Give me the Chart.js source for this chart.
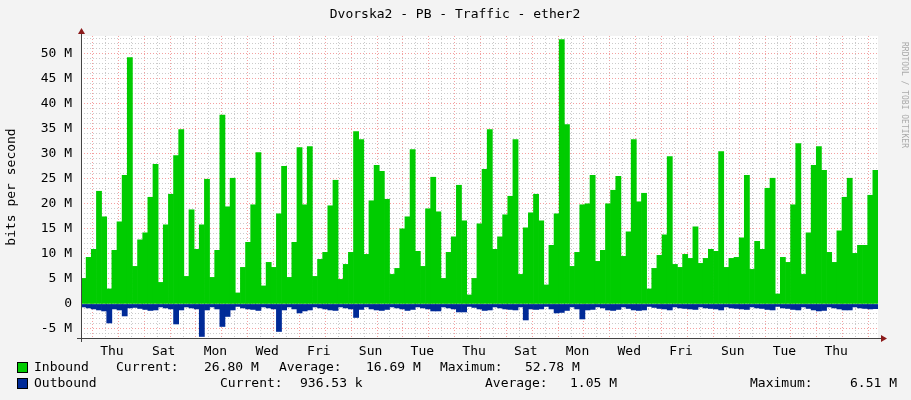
<!DOCTYPE html>
<html><head><meta charset="utf-8">
<script src="https://cdn.jsdelivr.net/npm/chart.js@4"></script>
<style>html,body{margin:0;padding:0;background:#f3f3f3}#w{width:911px;height:400px;position:relative}canvas{display:block}</style>
</head><body><div id="w"><canvas id="c" width="911" height="400"></canvas></div>
<script>
const title = "Dvorska2 - PB - Traffic - ether2";
const dayNames = ["Thu","Fri","Sat","Sun","Mon","Tue","Wed"];
const inbound = [5.1,9.3,10.9,22.5,17.4,3,10.7,16.4,25.7,49.2,7.5,12.8,14.2,21.3,27.9,4.3,15.8,21.9,29.6,34.8,5.5,18.8,10.9,15.8,24.9,5.3,10.7,37.7,19.4,25.1,2.2,7.3,12.3,19.8,30.2,3.6,8.3,7.3,18,27.5,5.3,12.3,31.2,19.8,31.4,5.5,8.9,10.3,19.6,24.7,4.9,7.9,10.3,
34.4,32.8,9.9,20.6,27.7,26.5,20.9,5.9,7.1,15,17.4,30.8,10.5,7.5,19,25.3,18.4,5.1,10.3,13.4,23.7,16.6,1.8,5.1,16,26.9,34.8,10.9,13.4,17.8,21.5,32.8,5.9,15.2,18.2,21.9,16.6,3.8,11.7,18,52.8,35.8,7.5,10.3,19.8,20,25.7,8.5,10.7,20,22.7,
25.5,9.5,14.4,32.8,20.4,22.1,3,7.1,9.7,13.8,29.4,7.9,7.3,9.9,9.1,15.4,8.1,9.1,10.9,10.5,30.4,7.3,9.1,9.3,13.2,25.7,6.9,12.5,10.9,23.1,25.1,2,9.3,8.3,19.8,32,5.9,14.2,27.7,31.4,26.7,10.3,8.3,14.6,21.3,25.1,10.1,11.7,11.7,21.7,26.7];
const outbound = [-0.6,-0.8,-1.0,-1.2,-1.4,-3.8,-1.0,-1.2,-2.4,-0.8,-0.7,-0.9,-1.1,-1.3,-1.2,-0.6,-0.8,-1.0,-4.0,-1.2,-0.6,-0.8,-1.0,-6.5,-1.2,-0.6,-1.0,-4.5,-2.5,-1.2,-0.5,-0.8,-1.0,-1.1,-1.3,-0.6,-0.8,-1.0,-5.5,-1.2,-0.6,-1.0,-1.8,-1.4,-1.2,-0.6,-0.8,-1.0,-1.2,-1.3,-0.6,-0.8,-1.0,
-2.7,-1.1,-0.6,-1.0,-1.2,-1.3,-1.1,-0.6,-0.8,-1.0,-1.3,-1.1,-0.6,-0.8,-1.0,-1.4,-1.4,-0.6,-0.8,-1.0,-1.6,-1.6,-0.5,-0.7,-1.0,-1.3,-1.2,-0.6,-0.8,-1.0,-1.1,-1.2,-0.6,-3.2,-1.0,-1.1,-1.0,-0.5,-1.0,-1.8,-1.7,-1.3,-0.6,-1.0,-3.0,-1.2,-1.1,-0.6,-0.8,-1.2,-1.3,
-1.1,-0.6,-0.9,-1.2,-1.3,-1.2,-0.5,-0.7,-0.9,-1.0,-1.2,-0.6,-0.8,-0.9,-1.0,-1.1,-0.6,-0.8,-0.9,-1.0,-1.2,-0.6,-0.8,-0.9,-1.0,-1.1,-0.6,-0.8,-0.9,-1.1,-1.2,-0.5,-0.8,-0.9,-1.1,-1.2,-0.6,-0.9,-1.2,-1.4,-1.3,-0.6,-0.8,-1.0,-1.2,-1.2,-0.6,-0.8,-0.9,-1.0,-0.94];
const legendRows = [
  {label:"Inbound", color:"#00cc00", items:[["Current:",116],["26.80 M",204],["Average:",279],["16.69 M",366],["Maximum:",440],["52.78 M",525]]},
  {label:"Outbound", color:"#002a97", items:[["Current:",220],["936.53 k",300],["Average:",485],["1.05 M",570],["Maximum:",750],["6.51 M",850]]}
];
const X_MIN = -16.7, X_MAX = 722.8;
const step = (X_MAX - X_MIN) / inbound.length;
const xs = inbound.map((_, i) => X_MIN + (i + 0.5) * step);
const FONT = "DejaVu Sans Mono";

const deco = {
  id:'deco',
  beforeDraw(ch){
    const {ctx, chartArea:a} = ch;
    ctx.save(); ctx.fillStyle='#fff'; ctx.fillRect(a.left,a.top,a.right-a.left,a.bottom-a.top); ctx.restore();
  },
  afterDraw(ch){
    const {ctx, chartArea:a} = ch;
    ctx.save();
    ctx.fillStyle='#000'; ctx.font='13px '+FONT; ctx.textAlign='center'; ctx.textBaseline='middle';
    ctx.fillText(title, 455, 15);
    ctx.strokeStyle='#444'; ctx.lineWidth=1;
    ctx.beginPath(); ctx.moveTo(a.left+0.5, a.bottom+4); ctx.lineTo(a.left+0.5, a.top-4); ctx.stroke();
    ctx.beginPath(); ctx.moveTo(a.left-4, a.bottom+0.5); ctx.lineTo(a.right+4, a.bottom+0.5); ctx.stroke();
    ctx.fillStyle='#8b1a1a';
    ctx.beginPath(); ctx.moveTo(a.left-3,a.top-2); ctx.lineTo(a.left+4,a.top-2); ctx.lineTo(a.left+0.5,a.top-8); ctx.fill();
    ctx.beginPath(); ctx.moveTo(a.right+3,a.bottom-3); ctx.lineTo(a.right+3,a.bottom+4); ctx.lineTo(a.right+9,a.bottom+0.5); ctx.fill();
    ctx.restore();
    ctx.save();
    ctx.fillStyle='#000'; ctx.font='13px '+FONT; ctx.textAlign='center'; ctx.textBaseline='middle';
    ctx.translate(12, (a.top+a.bottom)/2); ctx.rotate(-Math.PI/2);
    ctx.fillText('bits per second',0,0);
    ctx.restore();
    ctx.save();
    ctx.fillStyle='#aaa'; ctx.font='8px '+FONT; ctx.textAlign='center'; ctx.textBaseline='middle';
    ctx.translate(904, 95); ctx.rotate(Math.PI/2);
    ctx.fillText('RRDTOOL / TOBI OETIKER',0,0);
    ctx.restore();
    ctx.save();
    ctx.font='13px '+FONT; ctx.textBaseline='middle'; ctx.textAlign='left';
    legendRows.forEach((r,k)=>{
      const y = 368 + k*16;
      ctx.fillStyle=r.color; ctx.fillRect(17.5,y-5.5,10,10);
      ctx.strokeStyle='#000'; ctx.lineWidth=1; ctx.strokeRect(17.5,y-5.5,10,10);
      ctx.fillStyle='#000'; ctx.fillText(r.label,34,y);
      r.items.forEach(([t,x])=>ctx.fillText(t,x,y));
    });
    ctx.restore();
  }
};

new Chart(document.getElementById('c'), {
  type:'bar',
  data:{datasets:[
    {data: xs.map((x,i)=>({x, y:inbound[i]})), backgroundColor:'#00cc00', barPercentage:1, categoryPercentage:1, grouped:false},
    {data: xs.map((x,i)=>({x, y:outbound[i]})), backgroundColor:'#002a97', barPercentage:1, categoryPercentage:1, grouped:false}
  ]},
  options:{
    responsive:false, animation:false, devicePixelRatio:1,
    layout:{padding:{left:0,right:33,top:36,bottom:0}},
    plugins:{legend:{display:false}, tooltip:{enabled:false}},
    scales:{
      x:{type:'linear', min:X_MIN, max:X_MAX, offset:false,
        afterBuildTicks(s){ const t=[]; for(let v=0; v<=X_MAX; v+=12) t.push({value:v}); s.ticks=t; },
        afterFit(s){ s.height = 62; },
        grid:{color:(c)=> (c.tick && c.tick.value%24===0) ? 'rgba(240,120,120,0.7)' : 'rgba(190,190,190,0.8)', drawTicks:false},
        border:{display:false, dash:[1,2]},
        ticks:{autoSkip:false, maxRotation:0, padding:6, color:'#000', font:{family:FONT,size:13},
          callback:(v)=>{ if(v%24!==12) return ''; const d=Math.floor(v/24); return d%2===0 ? dayNames[d%7] : ''; }}
      },
      y:{min:-6.8, max:53.5,
        afterBuildTicks(s){ const t=[]; for(let v=-6; v<=53; v+=1) t.push({value:v}); s.ticks=t; },
        afterFit(s){ s.width = 81; },
        grid:{color:(c)=> (c.tick && c.tick.value%5===0) ? 'rgba(240,120,120,0.7)' : 'rgba(190,190,190,0.8)', drawTicks:false},
        border:{display:false, dash:[1,2]},
        ticks:{autoSkip:false, padding:9, color:'#000', font:{family:FONT,size:13},
          callback:(v)=> v%5===0 ? (v===0 ? '0' : v+' M') : ''}
      }
    }
  },
  plugins:[deco]
});
</script></body></html>
